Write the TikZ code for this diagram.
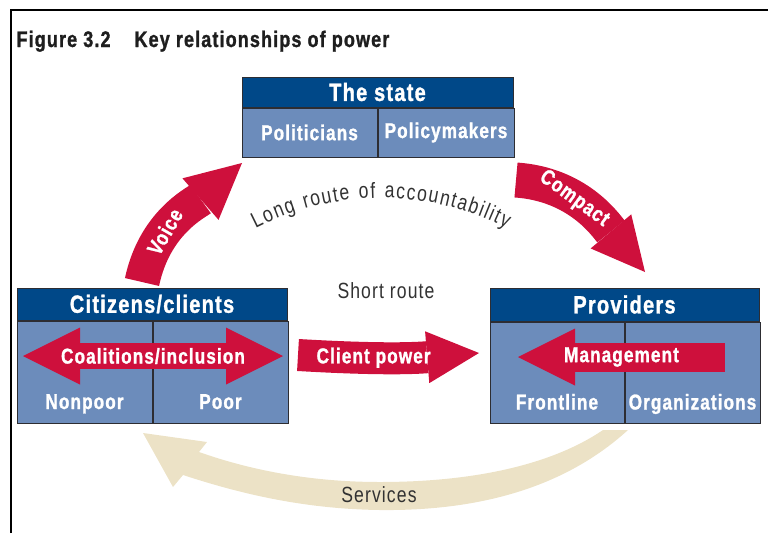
\documentclass[tikz,border=0pt]{standalone}
\usepackage{fontspec}
\setmainfont{Liberation Sans}[FakeStretch=0.8, LetterSpace=5, BoldFeatures={FakeBold=1.2}]
\usetikzlibrary{arrows.meta, decorations.text, positioning}
\definecolor{statehead}{RGB}{0, 72, 136}
\definecolor{cellblue}{RGB}{108, 140, 187}
\definecolor{boxline}{RGB}{45, 45, 50}
\definecolor{powerred}{RGB}{206, 16, 60}
\definecolor{servicetan}{RGB}{236, 226, 198}
\definecolor{labelgray}{RGB}{50, 50, 50}
\newcommand{\figtitlefont}{\fontsize{22.5}{26}\selectfont\bfseries}
\newcommand{\boxheadfont}{\fontsize{25}{29}\selectfont\bfseries}
\newcommand{\celltextfont}{\fontsize{21.5}{25}\selectfont\bfseries}
\newcommand{\arrowtextfont}{\fontsize{21.5}{25}\selectfont\bfseries}
\newcommand{\routefont}{\fontsize{22}{26}\selectfont}
\tikzset{
  headbox/.style={draw=boxline, line width=1pt, fill=statehead, text=white, inner sep=0pt, font=\boxheadfont},
  cellbox/.style={draw=boxline, line width=1pt, fill=cellblue, text=white, inner sep=0pt, font=\celltextfont},
  lowcell/.style={cellbox, text height=78pt, text depth=4pt},
  fatarrow/.style={draw=powerred, line width=#1},
  redtip/.style={-{Triangle[width=#1, length=#1, line width=0pt]}},
  arrowtext/.style={text=white, font=\arrowtextfont, inner sep=0pt},
}

\begin{document}
\begin{tikzpicture}[x=1pt, y=1pt]
\useasboundingbox (0,0) rectangle (768,-533);
\draw[line width=2pt] (11,-533) -- (11,-10) -- (768,-10);
\node[anchor=base west, font=\figtitlefont, text=labelgray!60!black] (fignum) at (13,-47) {Figure 3.2};
\node[anchor=base west, font=\figtitlefont, text=labelgray!60!black] (figtitle) at (131,-47) {Key relationships of power};

% the three actors
\node[headbox, minimum width=271pt, minimum height=30pt] (state) at (377.5,-92) {The state};
\node[cellbox, anchor=north west, minimum width=135pt, minimum height=49pt] (politicians) at (state.south west) {Politicians};
\node[cellbox, anchor=north west, minimum width=136pt, minimum height=49pt] (policymakers) at (politicians.north east) {Policymakers};

\node[headbox, minimum width=270pt, minimum height=32pt] (citizens) at (152,-304) {Citizens/clients};
\node[lowcell, anchor=north west, minimum width=135pt, minimum height=102pt] (nonpoor) at (citizens.south west) {Nonpoor};
\node[lowcell, anchor=north west, minimum width=135pt, minimum height=102pt] (poor) at (nonpoor.north east) {Poor};

\node[headbox, minimum width=269pt, minimum height=33pt] (providers) at (624.5,-304.5) {Providers};
\node[lowcell, anchor=north west, minimum width=134pt, minimum height=101pt] (frontline) at (providers.south west) {Frontline};
\node[lowcell, anchor=north west, minimum width=135pt, minimum height=101pt] (organizations) at (frontline.north east) {Organizations};

% arrow ends
\coordinate (voice-a) at (142,-282);
\coordinate (voice-b) at (242,-163);
\coordinate (compact-a) at (516,-180);
\coordinate (compact-b) at (645,-272);
\coordinate (client-a) at (298,-355);
\coordinate (client-b) at (479,-353);
\coordinate (coal-a) at (23,-356);
\coordinate (coal-b) at (283,-356);
\coordinate (mgmt-a) at (725,-357);
\coordinate (mgmt-b) at (518,-357);

% services flow back to the citizens
\fill[servicetan] (628,-430) .. controls (560,-492) and (470,-511) .. (380,-510)
  .. controls (300,-509) and (235,-492) .. (183,-475) -- (173,-487) -- (143,-433) -- (207,-442) -- (199,-452)
  .. controls (250,-470) and (310,-482) .. (380,-482)
  .. controls (470,-482) and (550,-466) .. (603,-430) -- cycle;
\node[anchor=base, font=\routefont, text=labelgray] (services) at (379,-502) {Services};

% red power arrows
\draw[fatarrow=35pt, redtip=55pt] (voice-a) to[out=78, in=221] node[pos=0.35, rotate=60, arrowtext] {Voice} (voice-b);
\draw[fatarrow=35pt, redtip=53pt] (compact-a) to[out=-4, in=130] node[pos=0.38, rotate=-36, arrowtext] {Compact} (compact-b);
\draw[fatarrow=32pt, redtip=52pt] (client-a) to[bend right=4] node[pos=0.41, arrowtext] {Client power} (client-b);
\draw[fatarrow=26pt, {Triangle[width=57pt, length=57pt, line width=0pt]}-{Triangle[width=57pt, length=57pt, line width=0pt]}] (coal-a) -- node[arrowtext] {Coalitions/inclusion} (coal-b);
\draw[fatarrow=29pt, redtip=57pt] (mgmt-a) -- node[arrowtext] {Management} (mgmt-b);

% route labels
\path[decorate, decoration={text along path, text align=fit to path, text color=labelgray,
  text={|\routefont|Long route of accountability}}] (381,-474) ++(117:276) arc (117:63:276);
\node[anchor=base, font=\routefont, text=labelgray] (short) at (386,-298) {Short route};
\end{tikzpicture}
\end{document}
